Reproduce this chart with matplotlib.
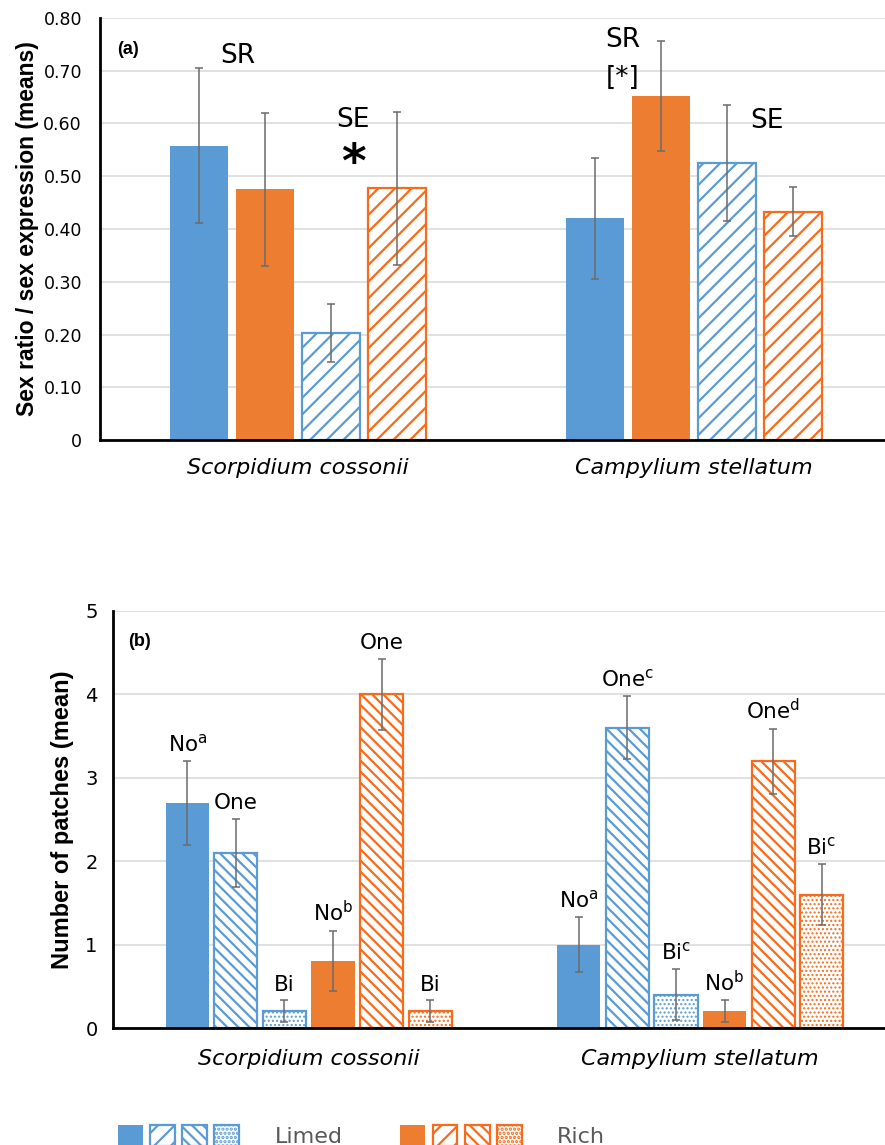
import matplotlib
matplotlib.use("Agg")
import matplotlib.pyplot as plt
import numpy as np
from matplotlib.patches import Patch
from matplotlib.legend_handler import HandlerTuple

# species (categories)
species = ["Scorpidium cossonii", "Campylium stellatum"]

# panel (a): sex ratio (SR) and sex expression (SE), limed vs rich
sr_limed = [0.558, 0.420]
sr_limed_err = [0.147, 0.115]
sr_rich = [0.475, 0.652]
sr_rich_err = [0.145, 0.105]
se_limed = [0.203, 0.525]
se_limed_err = [0.055, 0.110]
se_rich = [0.477, 0.433]
se_rich_err = [0.145, 0.047]

# panel (b): number of patches (No / One / Bi sex), limed vs rich
no_limed = [2.7, 1.0]
no_limed_err = [0.50, 0.33]
one_limed = [2.1, 3.6]
one_limed_err = [0.41, 0.375]
bi_limed = [0.2, 0.4]
bi_limed_err = [0.13, 0.31]
no_rich = [0.8, 0.2]
no_rich_err = [0.36, 0.13]
one_rich = [4.0, 3.2]
one_rich_err = [0.43, 0.39]
bi_rich = [0.2, 1.6]
bi_rich_err = [0.13, 0.37]

labels_b = [
    ["No$^{\\mathregular{a}}$", "One", "Bi", "No$^{\\mathregular{b}}$", "One", "Bi"],
    ["No$^{\\mathregular{a}}$", "One$^{\\mathregular{c}}$", "Bi$^{\\mathregular{c}}$",
     "No$^{\\mathregular{b}}$", "One$^{\\mathregular{d}}$", "Bi$^{\\mathregular{c}}$"],
]

blue = "#5B9BD5"
orange = "#ED7D31"
orange2 = "#F96B1A"
errc = "#6b6b6b"
gridc = "#d9d9d9"

plt.rcParams["font.family"] = "DejaVu Sans"
plt.rcParams["hatch.linewidth"] = 1.6

fig = plt.figure(figsize=(8.85, 11.45), dpi=100)
ax1 = fig.add_axes([100 / 885, 705 / 1145, 785 / 885, 422 / 1145])
ax2 = fig.add_axes([113 / 885, 117 / 1145, 772 / 885, 417 / 1145])

err_kw = dict(ecolor=errc, elinewidth=1.1, capsize=3, capthick=1.1)
x = np.arange(len(species))


def thin_dots(patches, hatch):
    # dotted fill looks finer in the original
    if hatch == "...." and hasattr(patches[0], "set_hatch_linewidth"):
        for p in patches:
            p.set_hatch_linewidth(1.0)


def style_axes(ax, ymax, step, fmt, tick_fs, pad_y, pad_x, xlabel_fs):
    ax.set_ylim(0, ymax)
    ticks = np.arange(0, ymax + step / 2, step)
    ax.set_yticks(ticks)
    ax.set_yticklabels([fmt(t) for t in ticks], fontsize=tick_fs)
    ax.set_xticks(x)
    ax.set_xticklabels(species, fontsize=xlabel_fs, style="italic")
    ax.tick_params(axis="y", length=0, pad=pad_y)
    ax.tick_params(axis="x", length=0, pad=pad_x)
    ax.grid(axis="y", color=gridc, linewidth=1.1)
    ax.set_axisbelow(True)
    for s in ["top", "right"]:
        ax.spines[s].set_visible(False)
    for s in ["left", "bottom"]:
        ax.spines[s].set_linewidth(2)
        ax.spines[s].set_color("black")


# ---------- panel (a) ----------
wa = 0.146
sa = 0.1667
series_a = [
    (sr_limed, sr_limed_err, blue, blue, None),
    (sr_rich, sr_rich_err, orange, orange, None),
    (se_limed, se_limed_err, "white", blue, "//"),
    (se_rich, se_rich_err, "white", orange2, "//"),
]
for k, (vals, errs, fc, ec, hatch) in enumerate(series_a):
    lw = 0 if hatch is None else 1.6
    ax1.bar(x + (k - 1.5) * sa, vals, wa, yerr=errs, color=fc, edgecolor=ec,
            hatch=hatch, linewidth=lw, error_kw=err_kw, zorder=2)

ax1.set_xlim(-0.5, -0.5 + 785 / 396)
style_axes(ax1, 0.8, 0.1, lambda t: "0" if t == 0 else f"{t:.2f}", 12.5, 13, 13, 16)
ax1.set_ylabel("Sex ratio / sex expression (means)", fontsize=16.5, fontweight="bold",
               family="Liberation Sans", labelpad=3)
ax1.text(0.022, 0.915, "(a)", transform=ax1.transAxes, fontsize=13, fontweight="bold",
         family="Liberation Sans")

ax1.text(-0.1515, 0.715, "SR", ha="center", va="baseline", fontsize=19)
ax1.text(0.139, 0.593, "SE", ha="center", va="baseline", fontsize=19)
ax1.text(0.141, 0.498, "*", ha="center", va="baseline", fontsize=34, fontweight="bold")
ax1.text(0.8207, 0.745, "SR", ha="center", va="baseline", fontsize=19)
ax1.text(0.8207, 0.674, "[*]", ha="center", va="baseline", fontsize=19)
ax1.text(1.184, 0.591, "SE", ha="center", va="baseline", fontsize=19)

# ---------- panel (b) ----------
wb = 0.11
sb = 0.124
series_b = [
    (no_limed, no_limed_err, blue, blue, None),
    (one_limed, one_limed_err, "white", blue, "\\\\\\"),
    (bi_limed, bi_limed_err, "white", blue, "...."),
    (no_rich, no_rich_err, orange, orange, None),
    (one_rich, one_rich_err, "white", orange2, "\\\\\\"),
    (bi_rich, bi_rich_err, "white", orange2, "...."),
]
for k, (vals, errs, fc, ec, hatch) in enumerate(series_b):
    lw = 0 if hatch is None else 1.6
    xs = x + (k - 2.5) * sb
    bars = ax2.bar(xs, vals, wb, yerr=errs, color=fc, edgecolor=ec, hatch=hatch,
                   linewidth=lw, error_kw=err_kw, zorder=2)
    thin_dots(bars.patches, hatch)
    for i in range(len(species)):
        ax2.annotate(labels_b[i][k], (xs[i], vals[i] + errs[i]), xytext=(0, 7),
                     textcoords="offset points", ha="center", va="baseline", fontsize=15.5)

ax2.set_xlim(-0.5, -0.5 + 772 / 391.5)
style_axes(ax2, 5, 1, lambda t: f"{t:.0f}", 14, 11, 15, 16)
ax2.set_ylabel("Number of patches (mean)", fontsize=17, fontweight="bold",
               family="Liberation Sans", labelpad=8)
ax2.text(0.02, 0.915, "(b)", transform=ax2.transAxes, fontsize=13, fontweight="bold",
         family="Liberation Sans")

# ---------- legend ----------
def sq(fc, ec, hatch):
    p = Patch(facecolor=fc, edgecolor=ec, hatch=hatch, linewidth=0 if hatch is None else 1.6)
    thin_dots([p], hatch)
    return p


limed_h = (sq(blue, blue, None), sq("white", blue, "//"), sq("white", blue, "\\\\\\"),
           sq("white", blue, "...."))
rich_h = (sq(orange, orange, None), sq("white", orange2, "//"), sq("white", orange2, "\\\\\\"),
          sq("white", orange2, "...."))
leg = fig.legend([limed_h, rich_h], ["Limed", "Rich"], ncol=2,
                 handler_map={tuple: HandlerTuple(ndivide=None, pad=0.32)},
                 loc="upper left", bbox_to_anchor=(118 / 885, 1 - 1125 / 1145),
                 frameon=False, fontsize=16, handlelength=5.45, handleheight=1.1,
                 handletextpad=1.6, columnspacing=2.6, borderpad=0, borderaxespad=0)
for t in leg.get_texts():
    t.set_color("#595959")

fig.savefig("out.png", dpi=100)
